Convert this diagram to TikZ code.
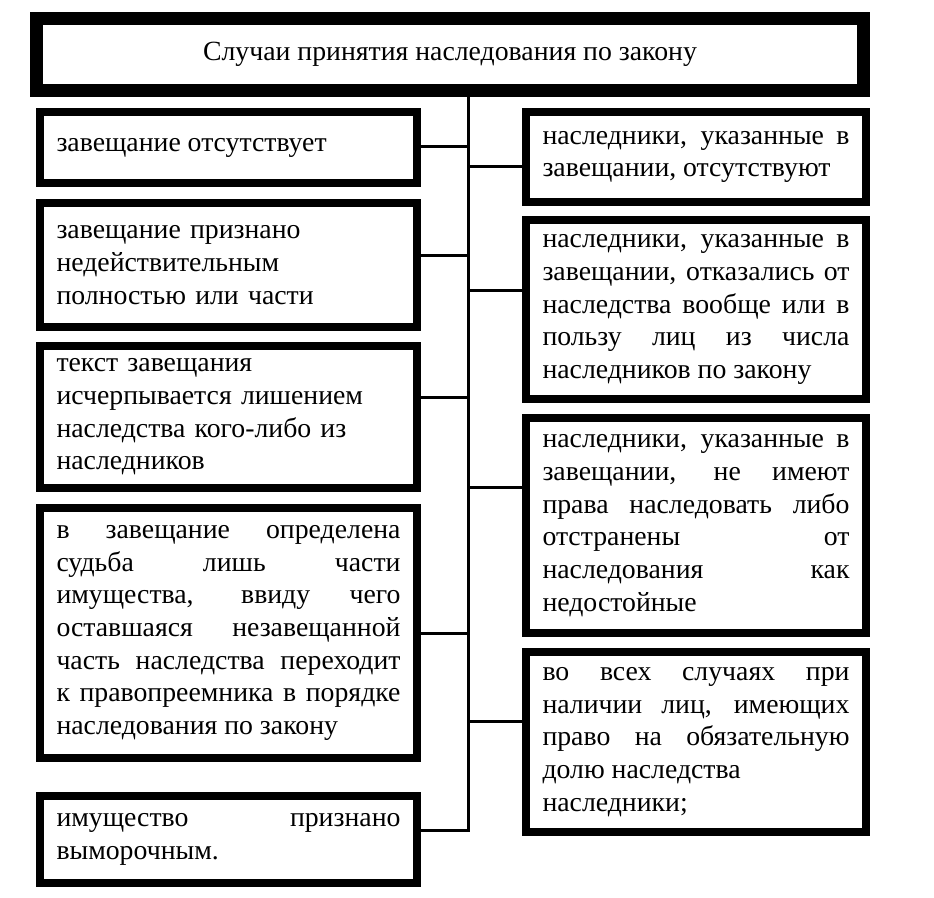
\documentclass[tikz,border=0pt]{standalone}
\usepackage{fontspec}
\setmainfont{Liberation Serif}
\usetikzlibrary{calc}
\tolerance=10000
\hyphenpenalty=10000
\tikzset{
  every picture/.style={line join=miter},
  box/.style={draw, line width=0.16cm, anchor=north west, inner xsep=0.33cm, inner ysep=0pt,
    align=justify, font=\fontsize{15.8}{18.6}\selectfont},
  lbox/.style={box, text width=6.88cm},
  rbox/.style={box, text width=6.14cm},
  head/.style={draw, line width=0.26cm, minimum width=16.54cm, minimum height=1.44cm,
    font=\fontsize{15.8}{18.6}\selectfont},
  link/.style={line width=0.06cm, line cap=rect},
}

\begin{document}
\begin{tikzpicture}
  \useasboundingbox (0,0) rectangle (18.68,-17.96);
  \node[head] (title) at (9.0,-1.09) {Случаи принятия наследования по закону};
  % left column
  \node[lbox, minimum height=1.42cm] (l1) at (0.72,-2.16) {завещание отсутствует};
  \node[lbox, align=left, minimum height=2.48cm] (l2) at (0.72,-3.98)
    {завещание признано\\недействительным\\полностью или части};
  \node[lbox, align=left, minimum height=2.84cm] (l3) at (0.72,-6.84)
    {текст завещания\\исчерпывается лишением\\наследства кого-либо из\\наследников};
  \node[lbox, minimum height=5.00cm] (l4) at (0.72,-10.08)
    {в завещание определена\linebreak судьба лишь части\linebreak имущества, ввиду чего\linebreak
     оставшаяся незавещанной\linebreak часть наследства переходит\linebreak
     к правопреемника в порядке\linebreak наследования по закону};
  \node[lbox, minimum height=1.74cm] (l5) at (0.72,-15.84) {имущество признано\linebreak выморочным.};
  % right column
  \node[rbox, minimum height=1.80cm] (r1) at (10.44,-2.16)
    {наследники, указанные в\linebreak завещании, отсутствуют};
  \node[rbox, minimum height=3.58cm] (r2) at (10.44,-4.32)
    {наследники, указанные в\linebreak завещании, отказались от\linebreak наследства вообще или в\linebreak
     пользу лиц из числа\linebreak наследников по закону};
  \node[rbox, minimum height=4.30cm] (r3) at (10.44,-8.28)
    {наследники, указанные в\linebreak завещании, не имеют\linebreak права наследовать либо\linebreak
     отстранены от\linebreak наследования как\linebreak недостойные};
  \node[rbox, minimum height=3.60cm] (r4) at (10.44,-12.96)
    {во всех случаях при\linebreak наличии лиц, имеющих\linebreak право на обязательную\linebreak
     долю наследства\\наследники;};
  % trunk and branches
  \coordinate (top) at (9.36,-1.81);
  \coordinate (bot) at (9.36,-16.54);
  \draw[link] (top) -- (bot);
  \foreach \n/\s/\f in {l1/east/.49, l2/east/.43, l3/east/.37, l4/east/.50, l5/east/.40,
                        r1/west/.60, r2/west/.40, r3/west/.33, r4/west/.39}
    \draw[link] ($(\n.north \s)!\f!(\n.south \s)$) coordinate (p) -- (p -| top);
\end{tikzpicture}
\end{document}
